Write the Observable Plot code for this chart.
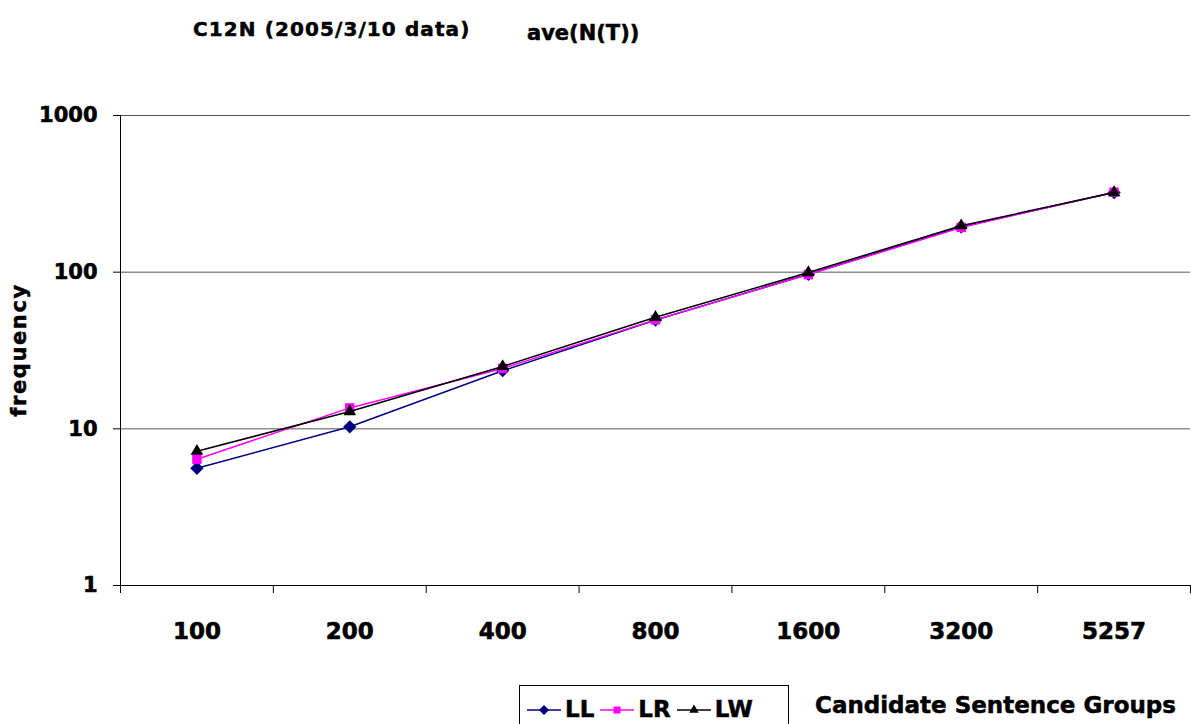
<!DOCTYPE html>
<html>
<head>
<meta charset="utf-8">
<script src="https://cdn.jsdelivr.net/npm/d3@7"></script>
<script src="https://cdn.jsdelivr.net/npm/@observablehq/plot@0.6"></script>
<style>
  body { margin: 0; background: #fff; }
  #wrap { position: relative; width: 1191px; height: 724px; overflow: hidden; font-family: "DejaVu Sans", sans-serif; font-weight: bold; color: #000; }
  #chart { position: absolute; left: 0; top: 0; }
  #chart text { stroke: #000; stroke-width: 0.6px; }
  .abs { position: absolute; line-height: 1; white-space: nowrap; -webkit-text-stroke: 0.5px #000; }
  #legend { position: absolute; left: 519px; top: 685px; width: 270px; height: 50px; border: 1px solid #000; display: flex; align-items: flex-start; padding-top: 12px; box-sizing: border-box; padding-left: 6px; }
  .item { display: flex; align-items: center; margin-right: 5px; font-size: 23px; -webkit-text-stroke: 0.5px #000; line-height: 1; }
  .item svg { margin-right: 3px; }
</style>
</head>
<body>
<div id="wrap">
  <div id="chart"></div>
  <div class="abs" style="left:193px; top:19px; font-size:20px; letter-spacing:1.1px;">C12N (2005/3/10 data)</div>
  <div class="abs" style="left:527px; top:23px; font-size:21px;">ave(N(T))</div>
  <div class="abs" style="left:19px; top:350px; font-size:21px; letter-spacing:1.6px; transform: translate(-50%,-50%) rotate(-90deg);">frequency</div>
  <div id="legend"></div>
  <div class="abs" style="left:815px; top:694px; font-size:23px;">Candidate Sentence Groups</div>
</div>
<script>
const groups = ["100", "200", "400", "800", "1600", "3200", "5257"];
const LL = [5.6, 10.3, 23.5, 49.5, 97, 195, 322];
const LR = [6.4, 13.6, 24.3, 49.6, 96.5, 193, 324];
const LW = [7.2, 12.9, 25.0, 51.5, 99.5, 198, 322];
const yTicks = [1, 10, 100, 1000];
const seriesNames = ["LL", "LR", "LW"];
const seriesValues = [LL, LR, LW];
const seriesColors = ["#000080", "#FF00FF", "#000000"];
const seriesSymbols = [d3.symbolDiamond2 || d3.symbolDiamond, d3.symbolSquare2 || d3.symbolSquare, d3.symbolTriangle2 || d3.symbolTriangle];

const data = [];
seriesNames.forEach((s, k) => {
  groups.forEach((g, i) => data.push({series: s, group: g, idx: i, value: seriesValues[k][i]}));
});
const labelRows = groups.map((g, i) => ({group: g, idx: i, y: 1}));
const boundaries = groups.map((_, i) => i - 0.5).concat([groups.length - 0.5]);

const marks = [
  Plot.ruleY(yTicks.slice(1), {stroke: "#555", strokeWidth: 1}),
  Plot.ruleY([1], {stroke: "#000", strokeWidth: 1}),
  Plot.ruleX([-0.5], {stroke: "#000", strokeWidth: 1}),
  Plot.text(labelRows, {x: "idx", y: "y", text: "group", dy: 46, fontSize: 23, fontWeight: "bold"})
];
seriesNames.forEach((s, k) => {
  const rows = data.filter(d => d.series === s);
  marks.push(Plot.line(rows, {x: "idx", y: "value", stroke: seriesColors[k], strokeWidth: 1.5}));
  marks.push(Plot.dot(rows, {x: "idx", y: "value", symbol: seriesSymbols[k], fill: seriesColors[k], stroke: "none", r: 6}));
});

const plot = Plot.plot({
  width: 1191,
  height: 724,
  marginLeft: 120,
  marginRight: 1,
  marginTop: 115,
  marginBottom: 139,
  style: {fontFamily: "DejaVu Sans", fontWeight: "bold", fontSize: "21px", background: "transparent", color: "#000"},
  x: {type: "linear", domain: [-0.5, groups.length - 0.5], ticks: boundaries, tickSize: 8, tickFormat: () => "", label: null},
  y: {type: "log", domain: [1, 1000], ticks: yTicks, tickFormat: d => String(d), tickSize: 7, tickPadding: 16, label: null},
  marks
});
document.getElementById("chart").appendChild(plot);

// legend
const legend = document.getElementById("legend");
seriesNames.forEach((s, k) => {
  const item = document.createElement("div");
  item.className = "item";
  const svg = d3.create("svg").attr("width", 36).attr("height", 22);
  svg.append("line").attr("x1", 1).attr("x2", 35).attr("y1", 11).attr("y2", 11).attr("stroke", seriesColors[k]).attr("stroke-width", 1.5);
  svg.append("path").attr("transform", "translate(18,11)").attr("d", d3.symbol(seriesSymbols[k], 64)()).attr("fill", seriesColors[k]);
  item.appendChild(svg.node());
  const t = document.createElement("span");
  t.textContent = s;
  item.appendChild(t);
  legend.appendChild(item);
});
</script>
</body>
</html>
